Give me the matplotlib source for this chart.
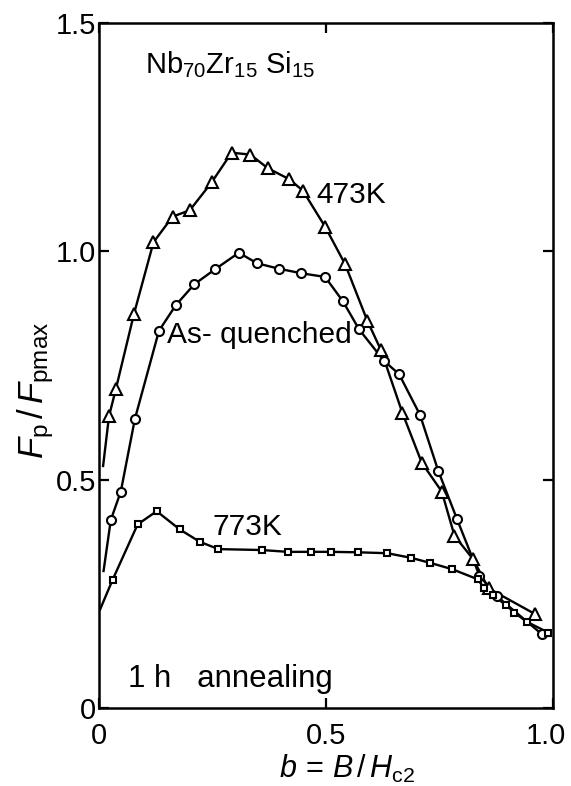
import matplotlib
matplotlib.use("Agg")
import matplotlib.pyplot as plt
from matplotlib.transforms import ScaledTranslation

FONT = "Liberation Sans"
plt.rcParams["font.family"] = [FONT, "DejaVu Sans"]
plt.rcParams["mathtext.fontset"] = "custom"
plt.rcParams["mathtext.rm"] = FONT
plt.rcParams["mathtext.it"] = FONT + ":italic"
plt.rcParams["mathtext.sf"] = FONT

# b = B/Hc2 and normalised pinning force Fp/Fpmax
b_473 = [0.022, 0.037, 0.077, 0.120, 0.162, 0.200, 0.248, 0.292, 0.333, 0.372,
         0.419, 0.449, 0.498, 0.542, 0.591, 0.621, 0.668, 0.711, 0.755, 0.783,
         0.824, 0.858, 0.960]
f_473 = [0.639, 0.698, 0.863, 1.020, 1.076, 1.090, 1.151, 1.216, 1.212, 1.182,
         1.158, 1.133, 1.054, 0.972, 0.848, 0.784, 0.647, 0.537, 0.474, 0.377,
         0.326, 0.262, 0.206]

b_aq = [0.026, 0.048, 0.079, 0.132, 0.169, 0.210, 0.256, 0.308, 0.348, 0.396,
        0.446, 0.498, 0.537, 0.573, 0.628, 0.661, 0.707, 0.747, 0.788, 0.838,
        0.876, 0.975]
f_aq = [0.412, 0.474, 0.633, 0.826, 0.882, 0.928, 0.961, 0.997, 0.974, 0.962,
        0.952, 0.944, 0.891, 0.829, 0.760, 0.731, 0.642, 0.520, 0.415, 0.290,
        0.245, 0.162]

b_773 = [0.030, 0.085, 0.127, 0.178, 0.222, 0.263, 0.358, 0.416, 0.468, 0.511,
         0.571, 0.635, 0.687, 0.729, 0.778, 0.834, 0.849, 0.867, 0.896, 0.915,
         0.942, 0.990]
f_773 = [0.281, 0.402, 0.431, 0.391, 0.364, 0.348, 0.346, 0.342, 0.342, 0.342,
         0.341, 0.339, 0.329, 0.318, 0.304, 0.282, 0.262, 0.247, 0.226, 0.209,
         0.189, 0.165]

# low-field ends of the drawn curves (no measured point there)
start_473 = (0.009, 0.530)
start_aq = (0.010, 0.300)
start_773 = (0.002, 0.215)

fig = plt.figure(figsize=(5.71, 7.86), dpi=100)
ax = fig.add_axes([0.1734, 0.0992, 0.7951, 0.8715])

lw = 1.7
for bx, fy, s, mk, ms in [
    (b_473, f_473, start_473, "^", 9),
    (b_aq, f_aq, start_aq, "o", 6.5),
    (b_773, f_773, start_773, "s", 4.8),
]:
    ax.plot([s[0]] + bx, [s[1]] + fy, color="black", lw=lw, zorder=2)
    ax.plot(bx, fy, linestyle="none", marker=mk, ms=ms, mfc="white",
            mec="black", mew=1.5, zorder=3)

ax.set_xlim(0, 1.0)
ax.set_ylim(0, 1.5)
ax.set_xticks([0, 0.5, 1.0])
ax.set_xticklabels(["0", "0.5", "1.0"])
ax.set_yticks([0, 0.5, 1.0, 1.5])
ax.set_yticklabels(["0", "0.5", "1.0", "1.5"])
ax.tick_params(direction="in", length=7, width=1.6, labelsize=21,
               top=True, right=True)
ax.tick_params(axis="x", pad=10)
ax.tick_params(axis="y", pad=2)
for sp in ax.spines.values():
    sp.set_linewidth(1.8)

# pull the last x tick label slightly inward
xlabels = ax.get_xticklabels()
xlabels[-1].set_transform(xlabels[-1].get_transform()
                          + ScaledTranslation(-7 / 100, 0, fig.dpi_scale_trans))

ax.set_xlabel(r"$b\,=\,B\,/\,H_{\mathrm{c2}}$", fontsize=22)
ax.xaxis.set_label_coords(0.546, -0.066)
ax.set_ylabel(r"$F_{\mathrm{p}}\,/\,F_{\mathrm{pmax}}$", fontsize=25)
ax.yaxis.set_label_coords(-0.095, 0.464)

ax.text(0.102, 1.408, r"Nb$_{70}$Zr$_{15}$ Si$_{15}$", fontsize=21,
        ha="left", va="center")
ax.text(0.478, 1.123, "473K", fontsize=21.5, ha="left", va="center")
ax.text(0.150, 0.817, "As- quenched", fontsize=21.5, ha="left", va="center")
ax.text(0.251, 0.396, "773K", fontsize=21.5, ha="left", va="center")
ax.text(0.063, 0.063, "1 h   annealing", fontsize=22.5, ha="left", va="center")

fig.savefig("out.png", dpi=100)
